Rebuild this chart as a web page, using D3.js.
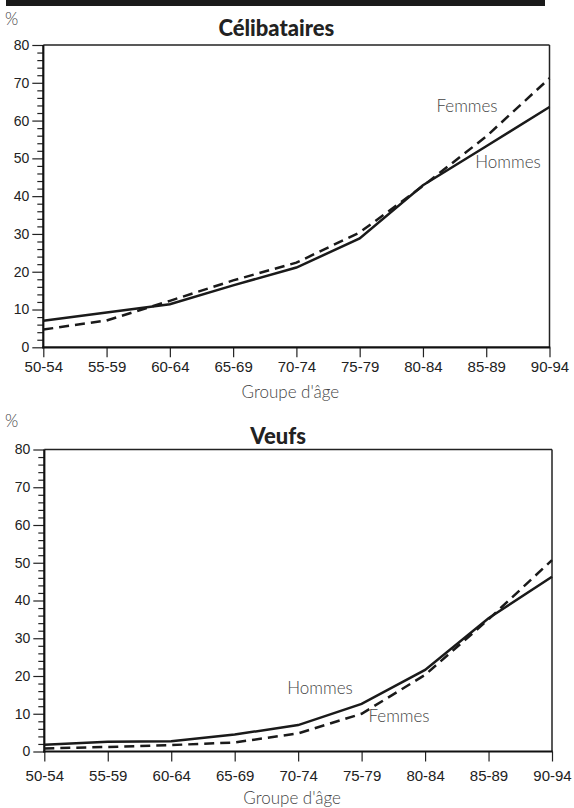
<!DOCTYPE html>
<html><head><meta charset="utf-8">
<script src="https://cdn.jsdelivr.net/npm/d3@7"></script>
<style>
html,body{margin:0;padding:0;background:#fff;}
svg{display:block;}
</style></head>
<body>
<svg id="chart" width="574" height="808"></svg>
<script>
const categories = ["50-54","55-59","60-64","65-69","70-74","75-79","80-84","85-89","90-94"];
const yTicks = [0,10,20,30,40,50,60,70,80];
const celibHommes = [7.0, 9.2, 11.4, 16.4, 21.1, 28.8, 42.9, 53.2, 63.6];
const celibFemmes = [4.7, 7.1, 12.3, 17.7, 22.4, 30.4, 42.7, 55.8, 71.2];
const veufsHommes = [1.8, 2.6, 2.7, 4.5, 7.0, 12.6, 21.6, 35.3, 46.3];
const veufsFemmes = [0.8, 1.2, 1.7, 2.4, 4.8, 10.0, 20.3, 35.0, 50.7];
const titles = ["Célibataires", "Veufs"];
const xTitle = "Groupe d'âge";
const seriesNames = ["Hommes", "Femmes"];

const svg = d3.select("#chart");
const lightFont = "Lato, 'Open Sans', sans-serif";
const tickFont = "'Liberation Sans', Arial, sans-serif";

// top black bar
svg.append("rect").attr("x",6).attr("y",0).attr("width",539).attr("height",6).attr("fill","#1a1a1a");

const panels = [
  {title:titles[0], h:celibHommes, f:celibFemmes, x0:43.3, x1:549.5, y0:45, y1:347.3, labOff:25, titOff:51,
   titY:36, pctY:25, hLab:[508, 167.5], fLab:[467, 111.5]},
  {title:titles[1], h:veufsHommes, f:veufsFemmes, x0:44.3, x1:552, y0:449.5, y1:751.5, labOff:30, titOff:52,
   titY:443.5, pctY:426.5, hLab:[320, 693.5], fLab:[399, 722]}
];

panels.forEach(p => {
  const x = d3.scalePoint().domain(categories).range([p.x0, p.x1]);
  const y = d3.scaleLinear().domain([0,80]).range([p.y1, p.y0]);
  const g = svg.append("g");

  // % label
  g.append("text").attr("x",5).attr("y",p.pctY).text("%")
    .attr("font-family",lightFont).attr("font-weight",300).attr("font-size",17).attr("fill","#444");
  // title
  g.append("text").attr("x",(p.x0+p.x1)/2-20).attr("y",p.titY).attr("text-anchor","middle")
    .text(p.title).attr("font-family",lightFont).attr("font-weight",900).attr("font-size",22).attr("fill","#222");

  // minor y ticks
  const minor = d3.range(0,81,2).filter(v => v % 10 !== 0);
  g.append("g").attr("transform",`translate(${p.x0},0)`)
    .call(d3.axisLeft(y).tickValues(minor).tickSize(6).tickFormat(""))
    .call(a => a.select(".domain").remove())
    .call(a => a.selectAll("line").attr("stroke","#222").attr("stroke-width",1.2));
  // major y ticks
  g.append("g").attr("transform",`translate(${p.x0},0)`)
    .call(d3.axisLeft(y).tickValues(yTicks).tickSize(11).tickPadding(3))
    .call(a => a.select(".domain").remove())
    .call(a => a.selectAll("line").attr("stroke","#222").attr("stroke-width",1.2))
    .call(a => a.selectAll("text").attr("font-family",tickFont).attr("font-size",14).attr("fill","#222"));

  // x ticks
  g.append("g").attr("transform",`translate(0,${p.y1})`)
    .call(d3.axisBottom(x).tickSize(10).tickPadding(p.labOff-10-11))
    .call(a => a.select(".domain").remove())
    .call(a => a.selectAll("line").attr("stroke","#222").attr("stroke-width",1.2))
    .call(a => a.selectAll("text").attr("font-family",tickFont).attr("font-size",15).attr("fill","#222")
       .attr("dy","0.71em"));

  // frame
  g.append("line").attr("x1",p.x0).attr("x2",p.x1).attr("y1",p.y0).attr("y2",p.y0).attr("stroke","#222").attr("stroke-width",1.5);
  g.append("line").attr("x1",p.x1).attr("x2",p.x1).attr("y1",p.y0).attr("y2",p.y1).attr("stroke","#222").attr("stroke-width",1.5);
  g.append("line").attr("x1",p.x0).attr("x2",p.x0).attr("y1",p.y0).attr("y2",p.y1+1).attr("stroke","#111").attr("stroke-width",2.2);
  g.append("line").attr("x1",p.x0-1).attr("x2",p.x1+0.7).attr("y1",p.y1).attr("y2",p.y1).attr("stroke","#111").attr("stroke-width",2.2);

  // x title
  g.append("text").attr("x",(p.x0+p.x1)/2-6).attr("y",p.y1+p.titOff).attr("text-anchor","middle")
    .text(xTitle).attr("font-family",lightFont).attr("font-weight",300).attr("font-size",17).attr("fill","#444");

  const line = d3.line().x((d,i)=>x(categories[i])).y(d=>y(d));
  g.append("path").datum(p.h).attr("d",line).attr("fill","none").attr("stroke","#1a1a1a").attr("stroke-width",2.5);
  g.append("path").datum(p.f).attr("d",line).attr("fill","none").attr("stroke","#1a1a1a").attr("stroke-width",2.5)
    .attr("stroke-dasharray","10,6");

  g.append("text").attr("x",p.hLab[0]).attr("y",p.hLab[1]).attr("text-anchor","middle").text(seriesNames[0])
    .attr("font-family",lightFont).attr("font-weight",300).attr("font-size",17).attr("fill","#444");
  g.append("text").attr("x",p.fLab[0]).attr("y",p.fLab[1]).attr("text-anchor","middle").text(seriesNames[1])
    .attr("font-family",lightFont).attr("font-weight",300).attr("font-size",17).attr("fill","#444");
});
</script>
</body></html>
